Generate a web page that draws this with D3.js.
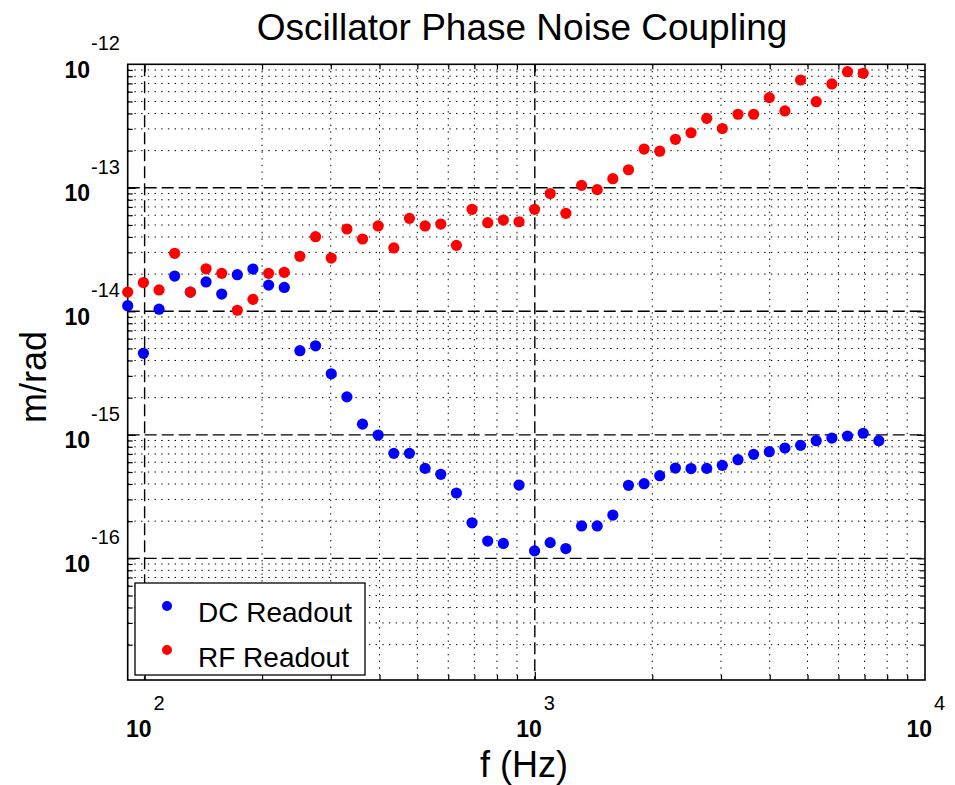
<!DOCTYPE html>
<html>

<head>
    <meta charset="utf-8">
    <title>Oscillator Phase Noise Coupling</title>
    <style>
        body { margin: 0; background: #fff; }
        svg text { font-family: "Liberation Sans", Arial, Helvetica, sans-serif; fill: #000; }
        .grid_minor { stroke: #000; stroke-width: 1; stroke-dasharray: 1.4, 5.3; }
        .grid_major { stroke: #000; stroke-width: 1.4; stroke-dasharray: 12, 5; }
        .axis path { display: none; }
        .axis line { stroke: #000; stroke-width: 1.2; }
    </style>
</head>

<body>
    <svg width="955" height="785"></svg>

    <script src="https://cdnjs.cloudflare.com/ajax/libs/d3/7.8.5/d3.min.js"></script>
    <script>
        // frequencies (Hz)
        const freqs = [90.5, 99.3, 108.9, 119.4, 131, 143.7, 157.6, 172.8, 189.5, 207.9,
            228, 250, 274.2, 300.8, 329.9, 361.8, 396.7, 435.2, 477.2, 523.4,
            574.1, 629.6, 690.5, 757.3, 830.6, 911, 998.6, 1095, 1201, 1318,
            1445, 1585, 1738, 1906, 2090, 2293, 2514, 2758, 3024, 3317,
            3638, 3990, 4375, 4799, 5263, 5772, 6330, 6943, 7614];

        // m/rad
        const dcReadout = [1.11e-14, 4.57e-15, 1.04e-14, 1.93e-14, 1.43e-14, 1.73e-14, 1.38e-14, 1.98e-14, 2.20e-14, 1.63e-14,
            1.56e-14, 4.80e-15, 5.26e-15, 3.12e-15, 2.03e-15, 1.22e-15, 9.96e-16, 7.08e-16, 7.08e-16, 5.35e-16,
            4.79e-16, 3.38e-16, 1.94e-16, 1.38e-16, 1.32e-16, 3.92e-16, 1.15e-16, 1.34e-16, 1.20e-16, 1.83e-16,
            1.83e-16, 2.24e-16, 3.90e-16, 4.02e-16, 4.67e-16, 5.38e-16, 5.33e-16, 5.35e-16, 5.66e-16, 6.29e-16,
            6.95e-16, 7.30e-16, 7.82e-16, 8.22e-16, 8.96e-16, 9.42e-16, 9.78e-16, 1.03e-15, 8.96e-16];

        const rfReadout = [1.43e-14, 1.71e-14, 1.49e-14, 2.95e-14, 1.43e-14, 2.21e-14, 2.03e-14, 1.02e-14, 1.25e-14, 2.03e-14,
            2.07e-14, 2.79e-14, 4.02e-14, 2.70e-14, 4.64e-14, 3.85e-14, 4.91e-14, 3.26e-14, 5.66e-14, 4.91e-14,
            5.09e-14, 3.42e-14, 6.70e-14, 5.22e-14, 5.48e-14, 5.31e-14, 6.70e-14, 8.99e-14, 6.22e-14, 1.047e-13,
            9.66e-14, 1.185e-13, 1.40e-13, 2.06e-13, 1.98e-13, 2.47e-13, 2.79e-13, 3.65e-13, 3.02e-13, 3.94e-13,
            3.94e-13, 5.37e-13, 4.19e-13, 7.46e-13, 4.98e-13, 6.93e-13, 8.71e-13, 8.46e-13];

        // labelled decades
        const xDecades = [100, 1000, 10000];
        const xExponents = ["2", "3", "4"];
        const yDecades = [1e-12, 1e-13, 1e-14, 1e-15, 1e-16];
        const yExponents = ["-12", "-13", "-14", "-15", "-16"];

        const series = [
            { name: "DC Readout", color: "#0000ff", values: dcReadout },
            { name: "RF Readout", color: "#ff0000", values: rfReadout }
        ];

        const svg = d3.select("svg");
        const plot = { left: 127.7, right: 925, top: 64.3, bottom: 680 };

        const x = d3.scaleLog().domain([90.5, 10000]).range([plot.left, plot.right]);
        const y = d3.scaleLog().domain([1.035e-17, 1e-12]).range([plot.bottom, plot.top]);

        // minor grid values: 2..9 of each decade that falls inside the box
        const mult = [2, 3, 4, 5, 6, 7, 8, 9];
        const xMinor = [];
        [100, 1000].forEach(d => mult.forEach(m => xMinor.push(m * d)));
        const yMinor = [];
        [1e-17, 1e-16, 1e-15, 1e-14, 1e-13].forEach(d => mult.forEach(m => yMinor.push(m * d)));
        const xMajor = [100, 1000];
        const yMajor = [1e-13, 1e-14, 1e-15, 1e-16];

        const grid = svg.append("g");
        grid.selectAll(".gx_minor").data(xMinor).enter().append("line")
            .attr("class", "grid_minor")
            .attr("x1", d => x(d)).attr("x2", d => x(d))
            .attr("y1", plot.top).attr("y2", plot.bottom);
        grid.selectAll(".gy_minor").data(yMinor).enter().append("line")
            .attr("class", "grid_minor")
            .attr("x1", plot.left).attr("x2", plot.right)
            .attr("y1", d => y(d)).attr("y2", d => y(d));
        grid.selectAll(".gx_major").data(xMajor).enter().append("line")
            .attr("class", "grid_major")
            .attr("x1", d => x(d)).attr("x2", d => x(d))
            .attr("y1", plot.top).attr("y2", plot.bottom);
        grid.selectAll(".gy_major").data(yMajor).enter().append("line")
            .attr("class", "grid_major")
            .attr("x1", plot.left).attr("x2", plot.right)
            .attr("y1", d => y(d)).attr("y2", d => y(d));

        // tick marks pointing inwards on all four sides
        function ticks(axisFn, values, size, transform) {
            svg.append("g")
                .attr("class", "axis")
                .attr("transform", transform)
                .call(axisFn.tickValues(values).tickSize(-size).tickFormat(""));
        }
        ticks(d3.axisBottom(x), xMinor, 5, "translate(0," + plot.bottom + ")");
        ticks(d3.axisBottom(x), xMajor, 8, "translate(0," + plot.bottom + ")");
        ticks(d3.axisTop(x), xMinor, 5, "translate(0," + plot.top + ")");
        ticks(d3.axisTop(x), xMajor, 8, "translate(0," + plot.top + ")");
        ticks(d3.axisLeft(y), yMinor, 5, "translate(" + plot.left + ",0)");
        ticks(d3.axisLeft(y), yMajor, 8, "translate(" + plot.left + ",0)");
        ticks(d3.axisRight(y), yMinor, 5, "translate(" + plot.right + ",0)");
        ticks(d3.axisRight(y), yMajor, 8, "translate(" + plot.right + ",0)");

        // frame
        svg.append("rect")
            .attr("x", plot.left).attr("y", plot.top)
            .attr("width", plot.right - plot.left).attr("height", plot.bottom - plot.top)
            .attr("fill", "none").attr("stroke", "#000").attr("stroke-width", 1.6);

        // tick labels as 10 with a raised exponent
        xDecades.forEach((d, i) => {
            svg.append("text")
                .attr("x", x(d) + 7).attr("y", 737)
                .attr("text-anchor", "end")
                .attr("font-size", 23).attr("font-weight", "bold")
                .text("10");
            svg.append("text")
                .attr("x", x(d) + 9).attr("y", 710)
                .attr("font-size", 20)
                .text(xExponents[i]);
        });
        yDecades.forEach((d, i) => {
            svg.append("text")
                .attr("x", 90).attr("y", y(d) + 13.5)
                .attr("text-anchor", "end")
                .attr("font-size", 23).attr("font-weight", "bold")
                .text("10");
            svg.append("text")
                .attr("x", 91).attr("y", y(d) - 14)
                .attr("font-size", 20)
                .text(yExponents[i]);
        });

        // points
        series.forEach(s => {
            svg.append("g").selectAll("circle")
                .data(s.values)
                .enter().append("circle")
                .attr("cx", (d, i) => x(freqs[i]))
                .attr("cy", d => y(d))
                .attr("r", 5.6)
                .attr("fill", s.color);
        });

        // titles
        svg.append("text")
            .attr("x", 522).attr("y", 39.5)
            .attr("text-anchor", "middle")
            .attr("font-size", 37)
            .text("Oscillator Phase Noise Coupling");
        svg.append("text")
            .attr("x", 524).attr("y", 777)
            .attr("text-anchor", "middle")
            .attr("font-size", 36)
            .text("f (Hz)");
        svg.append("text")
            .attr("transform", "translate(46,377) rotate(-90)")
            .attr("text-anchor", "middle")
            .attr("font-size", 36)
            .text("m/rad");

        // legend
        const legend = svg.append("g");
        legend.append("rect")
            .attr("x", 135).attr("y", 583)
            .attr("width", 230).attr("height", 92)
            .attr("fill", "#fff").attr("stroke", "#000").attr("stroke-width", 1.3);
        series.forEach((s, i) => {
            legend.append("circle")
                .attr("cx", 167).attr("cy", 606 + i * 44)
                .attr("r", 5)
                .attr("fill", s.color);
            legend.append("text")
                .attr("x", 198).attr("y", 621.5 + i * 45)
                .attr("font-size", 28)
                .text(s.name);
        });
    </script>
</body>

</html>
